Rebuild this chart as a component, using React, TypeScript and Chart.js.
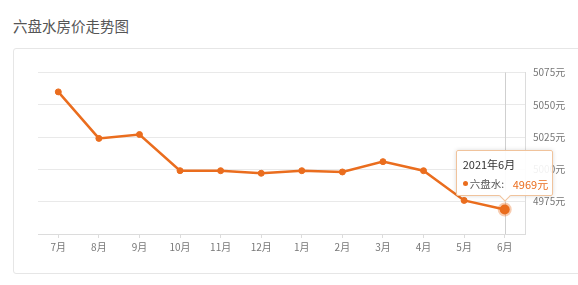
import React, { useEffect, useRef } from 'react';
import { Chart, registerables } from 'chart.js';

Chart.register(...registerables);

const months = ['7月', '8月', '9月', '10月', '11月', '12月', '1月', '2月', '3月', '4月', '5月', '6月'];
const prices = [5060, 5024, 5027, 4999, 4999, 4997, 4999, 4998, 5006, 4999, 4976, 4969];
const yMin = 4950;
const yMax = 5075;
const yStep = 25;
const seriesName = '六盘水';
const tooltipTitle = '2021年6月';
const chartTitle = '六盘水房价走势图';

const FONT = '"Noto Sans CJK SC", "Noto Sans", sans-serif';
const LINE = '#ea6d1e';

export default function App() {
  const canvasRef = useRef<HTMLCanvasElement>(null);
  const tipRef = useRef<HTMLDivElement>(null);

  useEffect(() => {
    const canvas = canvasRef.current;
    if (!canvas) return;
    const lastIdx = prices.length - 1;

    const crosshair = {
      id: 'crosshair',
      beforeDatasetsDraw(chart: any) {
        const p = chart.getDatasetMeta(0).data[lastIdx];
        const { top, bottom } = chart.chartArea;
        const ctx = chart.ctx;
        ctx.save();
        ctx.strokeStyle = '#cfcfcf';
        ctx.lineWidth = 1;
        const x = Math.round(p.x) + 0.5;
        ctx.beginPath();
        ctx.moveTo(x, top);
        ctx.lineTo(x, bottom);
        ctx.stroke();
        ctx.restore();
      },
    };

    const chart = new Chart(canvas, {
      type: 'line',
      data: {
        labels: months,
        datasets: [
          {
            data: prices,
            borderColor: LINE,
            backgroundColor: LINE,
            borderWidth: 2.5,
            tension: 0,
            pointRadius: (c: any) => (c.dataIndex === lastIdx ? 5 : 3),
            pointBorderWidth: (c: any) => (c.dataIndex === lastIdx ? 4 : 1),
            pointBorderColor: (c: any) => (c.dataIndex === lastIdx ? 'rgba(234,109,30,0.35)' : LINE),
            pointBackgroundColor: LINE,
          },
        ],
      },
      options: {
        responsive: false,
        animation: false,
        layout: { padding: { top: 72.5, left: 38, right: 0, bottom: 0 } },
        plugins: { legend: { display: false }, tooltip: { enabled: false } },
        scales: {
          x: {
            offset: true,
            grid: { offset: false, drawOnChartArea: false, drawTicks: true, tickLength: 4, color: '#dcdcdc' },
            border: { color: '#dcdcdc' },
            ticks: { color: '#777', font: { size: 10, family: FONT }, padding: 3, maxRotation: 0, autoSkip: false },
            afterFit: (s: any) => {
              s.height = 51;
            },
          },
          y: {
            position: 'right',
            min: yMin,
            max: yMax,
            ticks: {
              stepSize: yStep,
              color: '#777',
              font: { size: 10, family: FONT },
              padding: 8,
              callback: (v: any) => (Number(v) === yMin ? '' : v + '元'),
            },
            grid: { color: '#e9e9e9', drawTicks: false },
            border: { display: true, color: '#dcdcdc' },
            afterFit: (s: any) => {
              s.width = 53;
            },
          },
        },
      },
      plugins: [crosshair],
    } as any);

    const p: any = chart.getDatasetMeta(0).data[lastIdx];
    const tip = tipRef.current;
    if (tip && p) {
      tip.style.left = p.x - 49 + 'px';
      tip.style.top = p.y - 13 - 46 + 'px';
      tip.style.display = 'block';
    }

    return () => chart.destroy();
  }, []);

  return (
    <div style={{ position: 'absolute', left: 0, top: 0, width: 578, height: 285, overflow: 'hidden', background: '#fff', fontFamily: FONT }}>
      <div style={{ position: 'absolute', left: 13, top: 16, fontSize: 14.5, lineHeight: '20px', color: '#555', whiteSpace: 'nowrap' }}>
        {chartTitle}
      </div>
      <div
        style={{
          position: 'absolute',
          left: 13,
          top: 48,
          width: 620,
          height: 226,
          border: '1px solid #e6e6e6',
          borderRadius: 3,
          boxSizing: 'border-box',
        }}
      />
      <canvas ref={canvasRef} width={578} height={285} style={{ position: 'absolute', left: 0, top: 0, width: 578, height: 285 }} />
      <div
        ref={tipRef}
        style={{
          position: 'absolute',
          display: 'none',
          width: 97,
          height: 46,
          boxSizing: 'border-box',
          border: '1px solid #f0c39c',
          background: 'rgba(255,255,255,0.9)',
          boxShadow: '0 0 4px rgba(0,0,0,0.15)',
          borderRadius: 2,
        }}
      >
        <div style={{ position: 'absolute', left: 6, top: 5, fontSize: 11, lineHeight: '16px', color: '#333', whiteSpace: 'nowrap' }}>{tooltipTitle}</div>
        <div style={{ position: 'absolute', left: 6, top: 30, width: 5, height: 5, borderRadius: '50%', background: LINE }} />
        <div style={{ position: 'absolute', left: 13, top: 25, fontSize: 10.5, lineHeight: '16px', color: '#555', whiteSpace: 'nowrap' }}>{seriesName}:</div>
        <div style={{ position: 'absolute', left: 56, top: 25, fontSize: 11, lineHeight: '16px', color: LINE, whiteSpace: 'nowrap' }}>{prices[prices.length - 1]}元</div>
        <div
          style={{
            position: 'absolute',
            left: 44,
            bottom: -5,
            width: 7,
            height: 7,
            background: '#fff',
            borderRight: '1px solid #f0c39c',
            borderBottom: '1px solid #f0c39c',
            transform: 'rotate(45deg)',
          }}
        />
      </div>
    </div>
  );
}
